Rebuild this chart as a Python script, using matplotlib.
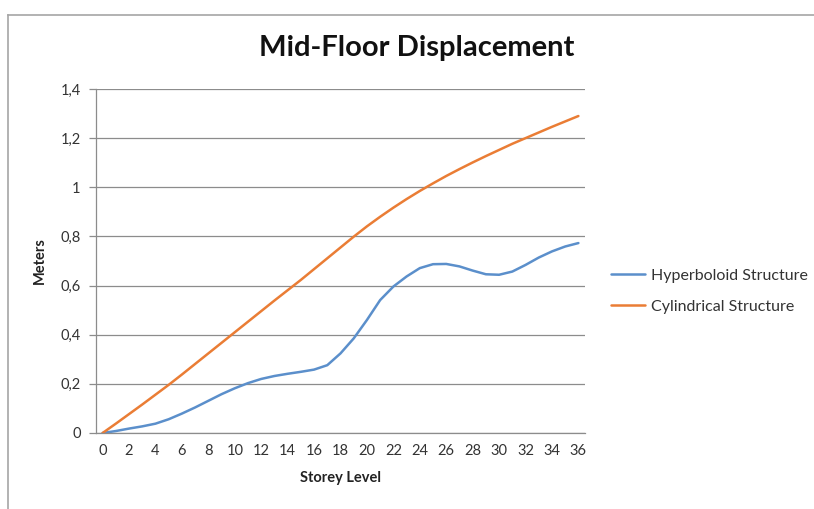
import matplotlib
matplotlib.use("Agg")
import matplotlib.pyplot as plt
from matplotlib.lines import Line2D
from matplotlib.ticker import FuncFormatter

storeys = list(range(0, 37))
hyperboloid = [0.0, 0.008, 0.018, 0.027, 0.038, 0.056, 0.079, 0.104, 0.131, 0.158,
               0.182, 0.203, 0.220, 0.232, 0.241, 0.249, 0.258, 0.276, 0.324, 0.385,
               0.460, 0.541, 0.596, 0.637, 0.671, 0.687, 0.688, 0.678, 0.661, 0.646,
               0.644, 0.657, 0.684, 0.714, 0.739, 0.759, 0.773]
cylindrical = [0.0, 0.038, 0.077, 0.116, 0.156, 0.196, 0.238, 0.281, 0.324, 0.367,
               0.410, 0.453, 0.496, 0.539, 0.581, 0.623, 0.667, 0.711, 0.755, 0.799,
               0.841, 0.880, 0.917, 0.952, 0.985, 1.016, 1.046, 1.074, 1.101, 1.127,
               1.152, 1.177, 1.200, 1.223, 1.246, 1.268, 1.290]
series_names = ["Hyperboloid Structure", "Cylindrical Structure"]
x_tick_labels = [str(v) for v in range(0, 37, 2)]
y_ticks = [0, 0.2, 0.4, 0.6, 0.8, 1.0, 1.2, 1.4]

plt.rcParams['font.family'] = ['Lato', 'DejaVu Sans']

W, H = 814, 509
fig = plt.figure(figsize=(W / 100, H / 100), dpi=100)

# chart-area border (extends beyond right and bottom of the image)
fig.add_artist(Line2D([8 / W, 8 / W], [0, 1 - 15 / H], color='#a6a6a6', lw=1.2,
                      transform=fig.transFigure))
fig.add_artist(Line2D([8 / W, 1], [1 - 15 / H, 1 - 15 / H], color='#a6a6a6', lw=1.2,
                      transform=fig.transFigure))

left, right, top, bottom = 96, 585, 89, 433
ax = fig.add_axes([left / W, 1 - bottom / H, (right - left) / W, (bottom - top) / H])

blue = '#5B8FCB'
orange = '#EA7D35'
ax.plot(storeys, hyperboloid, color=blue, lw=1.8, label=series_names[0], solid_capstyle='round')
ax.plot(storeys, cylindrical, color=orange, lw=1.8, label=series_names[1], solid_capstyle='round')

ax.set_xlim(-0.5, 36.5)
ax.set_ylim(0, 1.4)
ax.set_yticks(y_ticks)
ax.yaxis.set_major_formatter(FuncFormatter(lambda v, p: ('%g' % round(v, 1)).replace('.', ',')))
ax.set_xticks(list(range(0, 37, 2)))
ax.set_xticklabels(x_tick_labels)

ax.grid(axis='y', color='#8c8c8c', lw=0.9)
ax.set_axisbelow(True)
for s in ['top', 'right']:
    ax.spines[s].set_visible(False)
ax.spines['left'].set_color('#8c8c8c')
ax.spines['bottom'].set_color('#8c8c8c')
ax.spines['left'].set_linewidth(0.9)
ax.spines['bottom'].set_linewidth(0.9)

ax.tick_params(axis='y', length=5, width=0.9, color='#8c8c8c', labelsize=10.5,
               labelcolor='#333333', pad=6)
ax.tick_params(axis='x', length=0, labelsize=10.5, labelcolor='#333333', pad=8)

ax.set_xlabel("Storey Level", fontsize=10.5, fontweight='bold', color='#222222', labelpad=9)
ax.set_ylabel("Meters", fontsize=10.5, fontweight='bold', color='#222222', labelpad=10)

fig.text(417 / W, 1 - 48 / H, "Mid-Floor Displacement", ha='center', va='center',
         fontsize=21, fontweight='bold', color='#111111')

leg = fig.legend(loc='center left', bbox_to_anchor=(605 / W, 1 - 291 / H), frameon=False,
                 fontsize=11.5, handlelength=2.1, handletextpad=0.35, labelspacing=1.05,
                 borderaxespad=0)
for t in leg.get_texts():
    t.set_color('#333333')

fig.savefig("out.png", dpi=100)
